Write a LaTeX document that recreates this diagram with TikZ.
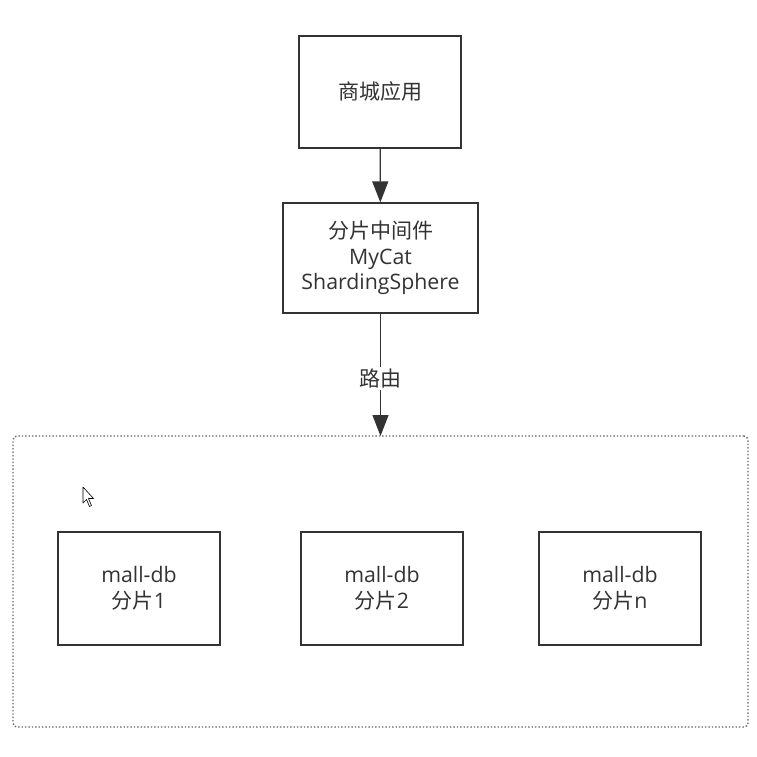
\documentclass[tikz,border=0pt]{standalone}
\usepackage{fontspec}
\setmainfont{Open Sans}
\newfontfamily\cjkf{Noto Sans CJK SC}
\newcommand{\zh}[1]{{\cjkf\fontsize{21}{25.5}\selectfont #1}}
\usetikzlibrary{arrows.meta}
\definecolor{ln}{HTML}{333333}
\tikzset{
  box/.style={draw=ln, line width=1.3pt, fill=white, text=ln, align=center, font=\fontsize{21.3}{25.5}\selectfont, inner sep=0pt},
  conn/.style={draw=ln, line width=1.3pt, -{Triangle[length=21pt,width=16pt]}},
}
\begin{document}
\begin{tikzpicture}[x=1pt,y=-1pt]
\useasboundingbox[fill=white] (0,0) rectangle (757,756);
% container
\node[draw=gray!80!black, dotted, line width=1.4pt, rounded corners=4pt, minimum width=735pt, minimum height=291pt, inner sep=0pt] (cont) at (380.5,581.5) {};
\node[box, minimum width=162pt, minimum height=112pt] (app) at (380,92) {\zh{商城应用}};
\node[box, minimum width=195pt, minimum height=110pt] (mid) at (380.5,258) {\zh{分片中间件}\\MyCat\\ShardingSphere};
\node[box, minimum width=162pt, minimum height=113pt] (db1) at (139,588.5) {mall-db\\\zh{分片}1};
\node[box, minimum width=162pt, minimum height=113pt] (db2) at (382,588.5) {mall-db\\\zh{分片}2};
\node[box, minimum width=162pt, minimum height=113pt] (db3) at (620,588.5) {mall-db\\\zh{分片}n};
\draw[conn] (app) -- (mid);
\coordinate (top) at (380.5,436);
\draw[conn] (mid.south) -- (top) node[pos=0.53, fill=white, text=ln, inner sep=2pt] (lbl) {\zh{路由}};
% cursor
\draw[black, fill=white, line width=0.6pt, line join=round] (83,487) -- (83,503) -- (86.5,499.5) -- (89.5,506.5) -- (91.5,505.5) -- (88.5,498.5) -- (93.5,498.5) -- cycle;
\end{tikzpicture}
\end{document}
